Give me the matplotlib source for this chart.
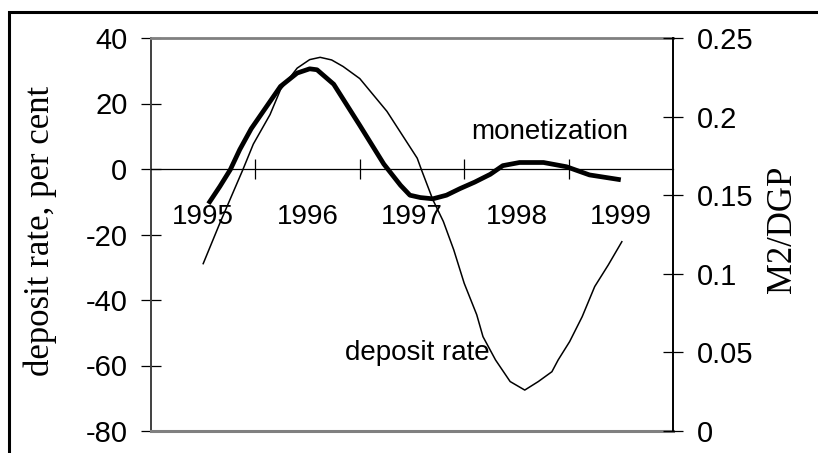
import matplotlib
matplotlib.use("Agg")
import matplotlib.pyplot as plt
from matplotlib.patches import Rectangle

# ─── DATA ────────────────────────────────────────────────────────────────────

# deposit rate, per cent (left axis)
deposit_years = [1995.50, 1995.66, 1995.88, 1995.98, 1996.14, 1996.24, 1996.40,
                 1996.52, 1996.62, 1996.73, 1996.84, 1997.00, 1997.26, 1997.55,
                 1997.59, 1997.70, 1997.80, 1997.90, 1998.00, 1998.12, 1998.18,
                 1998.30, 1998.44, 1998.58, 1998.71, 1998.84, 1998.90, 1999.01,
                 1999.13, 1999.25, 1999.38, 1999.51]
deposit_rate = [-28.9, -16.5, -0.2, 7.6, 16.6, 24.2, 30.8,
                33.4, 34.1, 33.3, 31.3, 27.6, 17.6, 3.3,
                -0.2, -9.4, -16.0, -24.7, -34.9, -44.5, -51.2,
                -58.3, -64.9, -67.5, -64.9, -61.9, -58.3, -52.7,
                -45.1, -35.9, -29.3, -22.2]

# monetization, M2/GDP (right axis)
money_years = [1995.55, 1995.66, 1995.76, 1995.85, 1995.96, 1996.24, 1996.40,
               1996.52, 1996.59, 1996.75, 1997.00, 1997.23, 1997.39, 1997.48,
               1997.58, 1997.70, 1997.83, 1997.96, 1998.10, 1998.25, 1998.37,
               1998.53, 1998.76, 1998.98, 1999.20, 1999.50]
monetization = [0.1446, 0.1556, 0.1663, 0.1790, 0.1923, 0.2192, 0.2277,
                0.2304, 0.2298, 0.2206, 0.1944, 0.1698, 0.1563, 0.1500,
                0.1485, 0.1477, 0.1500, 0.1542, 0.1583, 0.1633, 0.1688,
                0.1708, 0.1708, 0.1681, 0.1629, 0.1598]

year_labels    = ["1995", "1996", "1997", "1998", "1999"]
left_ticks     = [40, 20, 0, -20, -40, -60, -80]
left_labels    = ["40", "20", "0", "-20", "-40", "-60", "-80"]
right_ticks    = [0, 0.05, 0.1, 0.15, 0.2, 0.25]
right_labels   = ["0", "0.05", "0.1", "0.15", "0.2", "0.25"]

SANS  = "Liberation Sans"
SERIF = "Liberation Serif"
FS    = 20
FS_Y  = 21
W, H  = 818, 453


def main():
    fig = plt.figure(figsize=(W / 100, H / 100), dpi=100)
    ax = fig.add_axes([151 / W, 1 - 431 / H, (673 - 151) / W, (431 - 38) / H])

    ax.set_xlim(1995, 2000)
    ax.set_ylim(-80, 40)

    ax.plot(deposit_years, deposit_rate, color="black", lw=1.1,
            solid_joinstyle="round")

    # spines: zero line carries the year ticks, grey frame top/bottom
    ax.spines["bottom"].set_position(("data", 0))
    ax.spines["bottom"].set_linewidth(0.9)
    ax.spines["top"].set_color("#808080")
    ax.spines["top"].set_linewidth(2)
    ax.spines["left"].set_color("#404040")
    ax.spines["left"].set_linewidth(1.4)
    ax.spines["right"].set_visible(False)
    ax.axhline(-80, color="#808080", lw=2.2, clip_on=False, zorder=3)

    ax.set_xticks([1996, 1997, 1998, 1999])
    ax.set_xticklabels([])
    ax.set_xticks([y + 0.5 for y in range(1995, 2000)], minor=True)
    ax.set_xticklabels(year_labels, minor=True, fontsize=FS, family=SANS)
    ax.tick_params(axis="x", which="major", direction="inout", length=14,
                   width=0.9)
    ax.tick_params(axis="x", which="minor", length=0, pad=25)

    ax.set_yticks(left_ticks)
    ax.set_yticklabels(left_labels, fontsize=FS_Y, family=SANS)
    ax.tick_params(axis="y", direction="inout", length=14, width=0.9, pad=10)

    ax2 = ax.twinx()
    ax2.set_ylim(0, 0.25)
    ax2.plot(money_years, monetization, color="black", lw=3.4,
             solid_joinstyle="round", solid_capstyle="butt")
    for s in ("top", "bottom", "left"):
        ax2.spines[s].set_visible(False)
    ax2.spines["right"].set_linewidth(1.4)
    ax2.set_yticks(right_ticks)
    ax2.set_yticklabels(right_labels, fontsize=FS_Y, family=SANS)
    ax2.tick_params(axis="y", direction="inout", length=14, width=0.9, pad=10)

    ax.text(1998.82, 11.4, "monetization", fontsize=FS, family=SANS,
            ha="center", va="center")
    ax.text(1997.55, -56.2, "deposit rate", fontsize=FS, family=SANS,
            ha="center", va="center")

    fig.text(40 / W, 1 - 231 / H, "deposit rate, per cent", family=SERIF,
             fontsize=25, rotation=90, ha="center", va="center")
    fig.text(782 / W, 1 - 229 / H, "M2/DGP", family=SERIF,
             fontsize=25, rotation=90, ha="center", va="center")

    # outer frame, cut off at right and bottom edge
    fig.patches.append(Rectangle((9 / W, -0.2), 1.2, (H - 12) / H + 0.2,
                                 transform=fig.transFigure, fill=False,
                                 lw=2.2, edgecolor="black"))

    fig.savefig("out.png", dpi=100)


if __name__ == "__main__":
    main()
